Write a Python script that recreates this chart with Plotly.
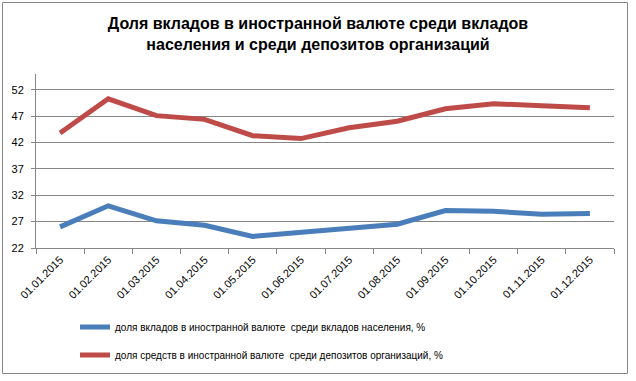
import plotly.graph_objects as go

categories = ["01.01.2015", "01.02.2015", "01.03.2015", "01.04.2015", "01.05.2015", "01.06.2015",
              "01.07.2015", "01.08.2015", "01.09.2015", "01.10.2015", "01.11.2015", "01.12.2015"]
households = [26.0, 30.0, 27.15, 26.3, 24.2, 24.9, 25.7, 26.5, 29.1, 28.95, 28.4, 28.55]
organizations = [43.8, 50.3, 47.1, 46.4, 43.3, 42.75, 44.8, 46.05, 48.4, 49.35, 49.0, 48.6]
y_ticks = [22, 27, 32, 37, 42, 47, 52]

name_h = "доля вкладов в иностранной валюте  среди вкладов населения, %"
name_o = "доля средств в иностранной валюте  среди депозитов организаций, %"

W, H = 636, 381
ml, mr, mt, mb = 36, 22, 74, 133
pw, ph = W - ml - mr, H - mt - mb

fig = go.Figure()
fig.add_trace(go.Scatter(x=categories, y=households, mode="lines", name=name_h,
                         line=dict(color="#4A7EBB", width=5), legend="legend"))
fig.add_trace(go.Scatter(x=categories, y=organizations, mode="lines", name=name_o,
                         line=dict(color="#BE4B48", width=5), legend="legend2"))

def px_x(p):
    return (p - ml) / pw

def px_y(p):
    return (H - mb - p) / ph

font = "Liberation Sans, Arial, sans-serif"
fig.update_layout(
    width=W, height=H,
    margin=dict(l=ml, r=mr, t=mt, b=mb, autoexpand=False),
    paper_bgcolor="white", plot_bgcolor="white",
    title=dict(text="Доля вкладов в иностранной валюте среди вкладов<br>населения и среди депозитов организаций",
               x=0.5, xanchor="center", xref="container", yref="container",
               y=1 - 29 / H, yanchor="middle",
               font=dict(family=font, size=16, color="black", weight="bold")),
    font=dict(family=font, size=11, color="black"),
    showlegend=True,
    legend=dict(x=75 / W, y=1 - 327 / H, xref="container", yref="container",
                xanchor="left", yanchor="middle",
                font=dict(size=10, family=font), bgcolor="rgba(0,0,0,0)", itemwidth=30),
    legend2=dict(x=75 / W, y=1 - 355 / H, xref="container", yref="container",
                 xanchor="left", yanchor="middle",
                 font=dict(size=10, family=font), bgcolor="rgba(0,0,0,0)", itemwidth=30),
    xaxis=dict(type="category", tickangle=-45, showgrid=False, showline=True,
               linecolor="#868686", linewidth=1, ticks="outside", tickson="boundaries",
               ticklen=5, tickcolor="#868686", tickfont=dict(size=11, family=font),
               range=[-0.5, 11.5]),
    yaxis=dict(range=[22, 55], tickvals=y_ticks, showgrid=True, gridcolor="#868686",
               gridwidth=1, showline=True, linecolor="#868686", linewidth=1,
               ticks="outside", ticklen=4, tickcolor="#868686", ticklabelstandoff=5,
               tickfont=dict(size=11, family=font), zeroline=False),
    shapes=[dict(type="rect", xref="paper", yref="paper",
                 x0=px_x(2.5), x1=px_x(627.5), y0=px_y(373.5), y1=px_y(2.5),
                 line=dict(color="#868686", width=1), fillcolor="rgba(0,0,0,0)", layer="below")],
)

fig.write_html("out.html", config={"displayModeBar": False},
               post_script="document.body.style.margin='0';document.body.style.overflow='hidden';")
